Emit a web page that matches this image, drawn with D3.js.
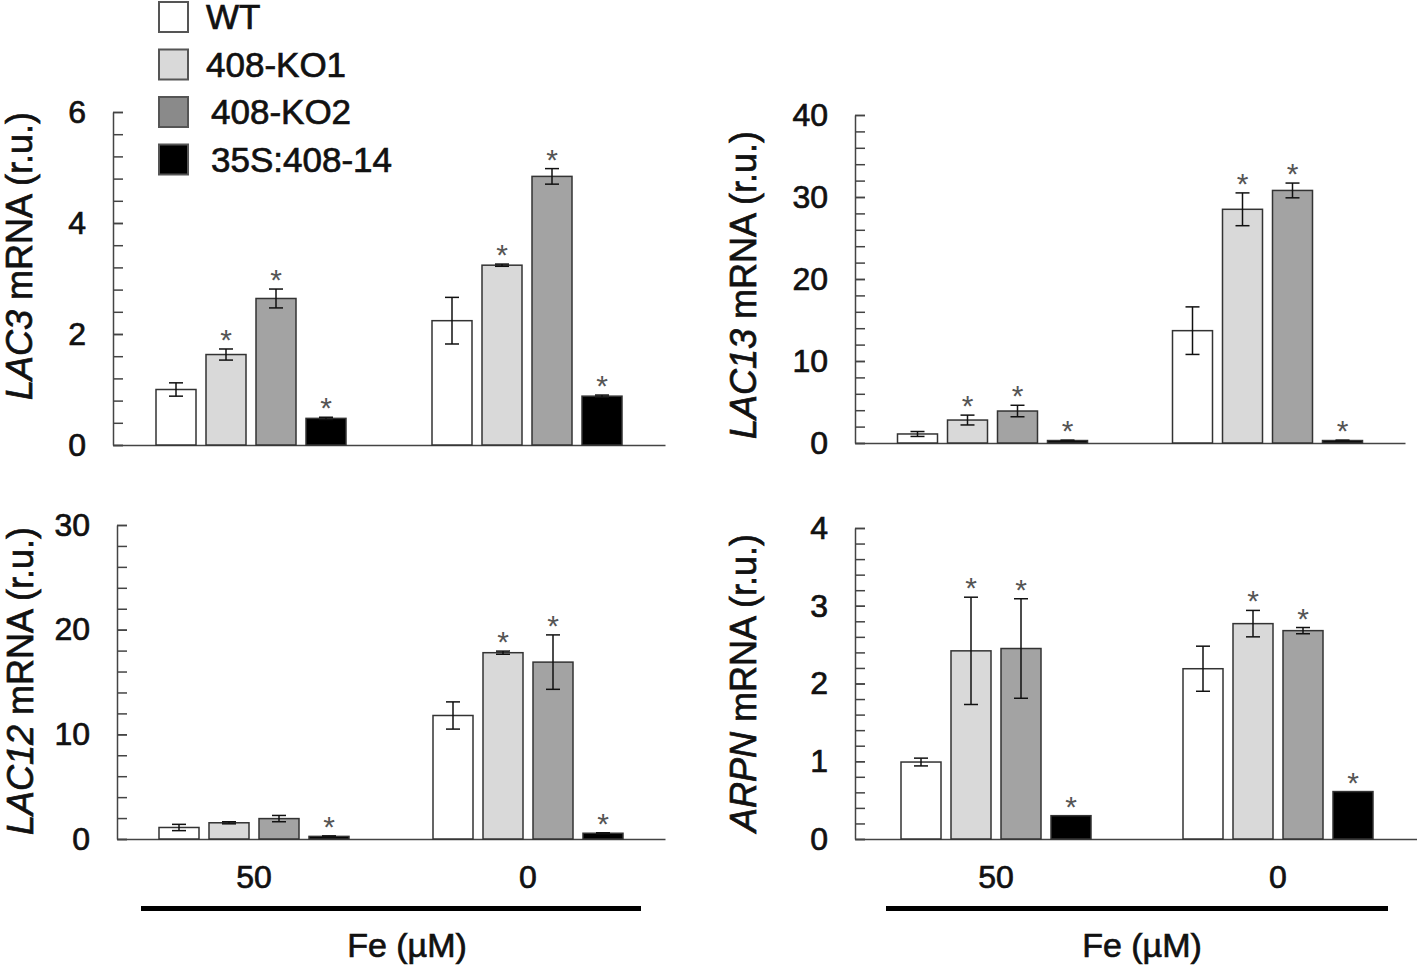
<!DOCTYPE html>
<html>
<head>
<meta charset="utf-8">
<script src="https://cdn.jsdelivr.net/npm/d3@7"></script>
<style>
  body { margin: 0; background: #fff; }
  svg { display: block; font-family: "Liberation Sans", Arial, sans-serif; }
  .lbl { stroke: #111; stroke-width: 0.7px; fill: #111; }
</style>
</head>
<body>
<div id="chart"></div>
<script>
// Fe treatments and genotypes
const groups = ["50", "0"];
const series = ["WT", "408-KO1", "408-KO2", "35S:408-14"];

// values, [Fe 50][Fe 0] x genotype
const lac3Mean = [[1.0, 1.63, 2.64, 0.48], [2.24, 3.24, 4.84, 0.88]];
const lac3Err = [[0.12, 0.1, 0.17, 0.02], [0.42, 0.02, 0.14, 0.02]];
const lac3Sig = [[0, 1, 1, 1], [0, 1, 1, 1]];

const lac13Mean = [[1.1, 2.8, 3.9, 0.3], [13.7, 28.5, 30.8, 0.3]];
const lac13Err = [[0.3, 0.6, 0.7, 0.05], [2.9, 2.0, 0.9, 0.05]];
const lac13Sig = [[0, 1, 1, 1], [0, 1, 1, 1]];

const lac12Mean = [[1.1, 1.55, 1.95, 0.25], [11.8, 17.8, 16.9, 0.55]];
const lac12Err = [[0.3, 0.1, 0.3, 0.05], [1.3, 0.15, 2.6, 0.05]];
const lac12Sig = [[0, 0, 0, 1], [0, 1, 1, 1]];

const arpnMean = [[0.99, 2.42, 2.45, 0.3], [2.19, 2.77, 2.68, 0.61]];
const arpnErr = [[0.05, 0.69, 0.64, 0], [0.29, 0.17, 0.04, 0]];
const arpnSig = [[0, 1, 1, 1], [0, 1, 1, 1]];

// axis ticks
const lac3Ticks = [0, 2, 4, 6];
const lac13Ticks = [0, 10, 20, 30, 40];
const lac12Ticks = [0, 10, 20, 30];
const arpnTicks = [0, 1, 2, 3, 4];

const barFill = ["#ffffff", "#d9d9d9", "#a3a3a3", "#000000"];
const legendFill = ["#ffffff", "#d9d9d9", "#8a8a8a", "#000000"];
const axisColor = "#444";
const font = "'Liberation Sans', Arial, sans-serif";

const svg = d3
  .select("#chart")
  .append("svg")
  .attr("width", 1417)
  .attr("height", 970);

const panels = [
  { gene: "LAC3", mean: lac3Mean, err: lac3Err, sig: lac3Sig, ticks: lac3Ticks, minor: 0.4,
    left: 113, right: 665, top: 112, bottom: 445, titleX: 32, titleY: 256, xLabels: false },
  { gene: "LAC13", mean: lac13Mean, err: lac13Err, sig: lac13Sig, ticks: lac13Ticks, minor: 2,
    left: 855, right: 1405, top: 115, bottom: 443, titleX: 756, titleY: 285, xLabels: false },
  { gene: "LAC12", mean: lac12Mean, err: lac12Err, sig: lac12Sig, ticks: lac12Ticks, minor: 2,
    left: 117, right: 665, top: 525, bottom: 839, titleX: 33, titleY: 681, xLabels: true,
    barPad: 18, feX: 407 },
  { gene: "ARPN", mean: arpnMean, err: arpnErr, sig: arpnSig, ticks: arpnTicks, minor: 0.2,
    left: 855, right: 1419, top: 528, bottom: 839, titleX: 756, titleY: 683, xLabels: true,
    barPad: 15, feX: 1142 },
];

panels.forEach((p) => drawPanel(p));

function drawPanel(p) {
  const g = svg.append("g");
  const yMax = d3.max(p.ticks);

  const y = d3.scaleLinear().domain([0, yMax]).range([p.bottom, p.top]);
  const x0 = d3.scaleBand().domain(groups).range([p.left, p.right]).padding(0);
  const x1 = d3
    .scaleBand()
    .domain(series)
    .range([x0.bandwidth() / 2 - 95, x0.bandwidth() / 2 + 95])
    .paddingInner(0.2)
    .paddingOuter(0);

  // minor ticks
  g.append("g")
    .attr("transform", `translate(${p.left},0)`)
    .call(
      d3.axisLeft(y)
        .tickValues(d3.range(0, yMax + p.minor / 2, p.minor))
        .tickFormat("")
        .tickSizeInner(-10)
        .tickSizeOuter(0)
    )
    .call((a) => a.selectAll("line,path").attr("stroke", axisColor).attr("stroke-width", 1.5));

  // labelled ticks
  g.append("g")
    .attr("transform", `translate(${p.left},0)`)
    .call(
      d3.axisLeft(y)
        .tickValues(p.ticks)
        .tickFormat(d3.format("d"))
        .tickSizeInner(-10)
        .tickSizeOuter(0)
        .tickPadding(27)
    )
    .call((a) => a.select(".domain").remove())
    .call((a) => a.selectAll("line").attr("stroke", axisColor).attr("stroke-width", 1.5))
    .call((a) =>
      a.selectAll("text")
        .attr("class", "lbl")
        .attr("font-family", font)
        .attr("font-size", 32)
    );

  // x axis
  const xAxis = g
    .append("g")
    .attr("transform", `translate(0,${p.bottom})`)
    .call(d3.axisBottom(x0).tickSize(0).tickPadding(26).tickFormat(p.xLabels ? (d) => d : ""));
  xAxis.select(".domain").attr("stroke", axisColor).attr("stroke-width", 1.5);
  xAxis.selectAll("text")
    .attr("class", "lbl")
    .attr("font-family", font)
    .attr("font-size", 32);

  // y title
  const title = g
    .append("text")
    .attr("class", "lbl")
    .attr("transform", `translate(${p.titleX},${p.titleY}) rotate(-90)`)
    .attr("text-anchor", "middle")
    .attr("font-family", font)
    .attr("font-size", 36);
  title.append("tspan").attr("font-style", "italic").text(p.gene);
  title.append("tspan").text(" mRNA (r.u.)");

  // bars
  const rows = [];
  groups.forEach((grp, gi) => {
    series.forEach((s, si) => {
      rows.push({ grp, s, si, mean: p.mean[gi][si], err: p.err[gi][si], sig: p.sig[gi][si] });
    });
  });

  const cell = g
    .selectAll(".cell")
    .data(rows)
    .enter()
    .append("g")
    .attr("transform", (d) => `translate(${x0(d.grp) + x1(d.s)},0)`);

  cell
    .append("rect")
    .attr("x", 0)
    .attr("y", (d) => y(d.mean))
    .attr("width", x1.bandwidth())
    .attr("height", (d) => y(0) - y(d.mean))
    .attr("fill", (d) => barFill[d.si])
    .attr("stroke", "#333")
    .attr("stroke-width", 1.5);

  const bw = x1.bandwidth();
  const cap = 7;
  const eb = cell.filter((d) => d.err > 0);
  eb.append("line")
    .attr("x1", bw / 2).attr("x2", bw / 2)
    .attr("y1", (d) => y(d.mean - d.err))
    .attr("y2", (d) => y(d.mean + d.err));
  eb.append("line")
    .attr("x1", bw / 2 - cap).attr("x2", bw / 2 + cap)
    .attr("y1", (d) => y(d.mean + d.err))
    .attr("y2", (d) => y(d.mean + d.err));
  eb.append("line")
    .attr("x1", bw / 2 - cap).attr("x2", bw / 2 + cap)
    .attr("y1", (d) => y(d.mean - d.err))
    .attr("y2", (d) => y(d.mean - d.err));
  eb.selectAll("line").attr("stroke", "#111").attr("stroke-width", 1.5);

  // significance stars
  cell
    .filter((d) => d.sig)
    .append("text")
    .attr("x", bw / 2)
    .attr("y", (d) => y(d.mean + d.err) + 1)
    .attr("text-anchor", "middle")
    .attr("font-family", font)
    .attr("font-size", 30)
    .attr("fill", "#555")
    .text("*");

  // Fe bar and label under bottom panels
  if (p.xLabels) {
    const xa = x0("50") + x1(series[0]) - p.barPad;
    const xb = x0("0") + x1(series[3]) + bw + p.barPad;
    g.append("line")
      .attr("x1", xa).attr("x2", xb)
      .attr("y1", 908.5).attr("y2", 908.5)
      .attr("stroke", "#000")
      .attr("stroke-width", 5);
    g.append("text")
      .attr("class", "lbl")
      .attr("x", p.feX)
      .attr("y", 957)
      .attr("text-anchor", "middle")
      .attr("font-family", font)
      .attr("font-size", 34)
      .text("Fe (\u00b5M)");
  }
}

// legend
const legend = svg
  .append("g")
  .selectAll("g")
  .data(series)
  .enter()
  .append("g")
  .attr("transform", (d, i) => `translate(159,${2 + i * 47.5})`);

legend
  .append("rect")
  .attr("width", 29)
  .attr("height", 30)
  .attr("fill", (d, i) => legendFill[i])
  .attr("stroke", "#555")
  .attr("stroke-width", 2);

legend
  .append("text")
  .attr("class", "lbl")
  .attr("x", (d, i) => (i < 2 ? 47 : 52))
  .attr("y", 27)
  .attr("font-family", font)
  .attr("font-size", 35)
  .text((d) => d);
</script>
</body>
</html>
